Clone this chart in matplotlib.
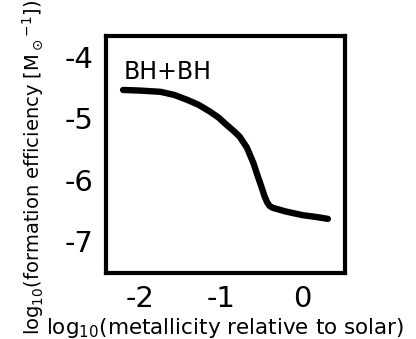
import matplotlib
matplotlib.use("Agg")
import matplotlib.pyplot as plt
import numpy as np

# curve
metallicity = [-2.21, -2.0, -1.75, -1.58, -1.42, -1.28, -1.14, -1.03, -0.93, -0.85,
               -0.77, -0.68, -0.60, -0.55, -0.50, -0.46, -0.43, -0.40, -0.36, -0.2, 0.01, 0.18, 0.32]
efficiency = [-4.54, -4.55, -4.57, -4.62, -4.70, -4.78, -4.89, -4.99, -5.11, -5.20,
              -5.30, -5.48, -5.73, -5.93, -6.12, -6.28, -6.37, -6.43, -6.46, -6.52, -6.58, -6.61, -6.64]
x_ticks = [-2, -1, 0]
y_ticks = [-4, -5, -6, -7]

fig = plt.figure(figsize=(4.16, 3.39), dpi=100)
ax = fig.add_axes([0.255, 0.195, 0.574, 0.699])

ax.plot(metallicity, efficiency, color="black", linewidth=4.6,
        solid_capstyle="round", solid_joinstyle="round")
ax.text(-2.2, -4.25, "BH+BH", fontsize=17, va="center", ha="left")

ax.set_xlim(-2.42, 0.53)
ax.set_ylim(-7.52, -3.66)
ax.set_xticks(x_ticks)
ax.set_xticklabels([str(t) for t in x_ticks])
ax.set_yticks(y_ticks)
ax.set_yticklabels([str(t) for t in y_ticks])
ax.tick_params(length=0, labelsize=21, pad=9)
for s in ax.spines.values():
    s.set_linewidth(3)

ax.set_xlabel(r"log$_{10}$(metallicity relative to solar)", fontsize=15.5, labelpad=2)
fig.text(0.08, 0.505, r"log$_{10}$(formation efficiency [M$_\odot{}^{-1}$])",
         fontsize=14, rotation=90, ha="center", va="center")

fig.savefig("out.png", dpi=100)
